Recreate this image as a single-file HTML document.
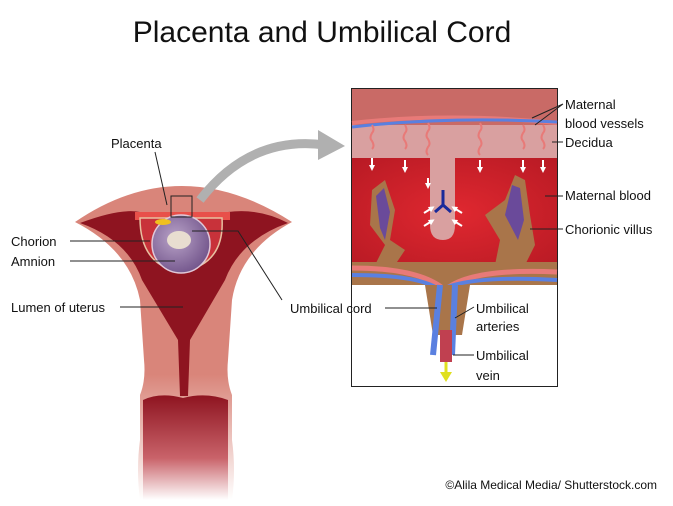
<!DOCTYPE html>
<html><head><meta charset="utf-8"><style>
body{margin:0;background:#fff;width:673px;height:506px;overflow:hidden}
svg{display:block}
text{font-family:"Liberation Sans",sans-serif;fill:#111}
</style></head><body>
<svg width="673" height="506" viewBox="0 0 673 506">
<defs>
<linearGradient id="fade" x1="0" y1="0" x2="0" y2="1"><stop offset="0.6" stop-color="#d9857a"/><stop offset="1" stop-color="#fff"/></linearGradient>
<linearGradient id="fade2" x1="0" y1="0" x2="0" y2="1"><stop offset="0" stop-color="#8e1420"/><stop offset="0.6" stop-color="#c9636a"/><stop offset="1" stop-color="#fff"/></linearGradient>
<radialGradient id="mb" cx="0.5" cy="0.5" r="0.7"><stop offset="0" stop-color="#e02830"/><stop offset="1" stop-color="#b81a24"/></radialGradient>
<radialGradient id="amn" cx="0.4" cy="0.4" r="0.7"><stop offset="0" stop-color="#b9a3c8"/><stop offset="1" stop-color="#6c4e86"/></radialGradient>
<marker id="wa" markerUnits="userSpaceOnUse" markerWidth="6" markerHeight="6" refX="3" refY="3" orient="auto"><path d="M0,0 L6,3 L0,6 Z" fill="#fff"/></marker>
</defs>
<text x="322" y="42" font-size="30" text-anchor="middle">Placenta and Umbilical Cord</text>

<!-- uterus -->
<path d="M75,222 Q180,150 292,222 Q240,250 232,300 L228,360 Q226,380 232,395 L232,440 Q236,470 232,500 L140,500 Q136,470 140,440 L140,395 Q146,380 144,360 L140,300 Q130,250 75,222 Z" fill="url(#fade)"/>
<path d="M80,223 Q120,208 140,212 L228,212 Q260,208 288,223 Q240,240 225,280 L190,340 L188,396 L180,396 L178,340 L142,280 Q128,240 80,223 Z" fill="#8e1420"/>
<path d="M143,400 Q160,392 183,398 Q206,392 228,400 L228,500 L143,500 Z" fill="url(#fade2)"/>
<path d="M135,212 L230,212 L230,220 L135,220 Z" fill="#e8504a"/>
<path d="M140,218 Q140,265 180,272 Q225,265 222,218 Z" fill="#c8323a" stroke="#e8c0a0" stroke-width="1.5"/>
<circle cx="181" cy="244" r="29" fill="url(#amn)" stroke="#e0c8d8" stroke-width="1.5"/>
<ellipse cx="179" cy="240" rx="12" ry="9" fill="#e8ddd0"/>
<ellipse cx="163" cy="222" rx="8" ry="3" fill="#f0c020"/>
<rect x="171" y="196" width="21" height="21" fill="none" stroke="#222" stroke-width="1"/>
<path d="M200,200 Q250,135 325,145" fill="none" stroke="#b0b0b0" stroke-width="9"/>
<path d="M318,130 L345,146 L318,160 Z" fill="#b0b0b0"/>

<!-- panel -->
<rect x="351.5" y="88.5" width="206" height="298" fill="#fff" stroke="#222"/>
<rect x="352" y="89" width="205" height="36" fill="#c96a66"/>
<rect x="352" y="125" width="205" height="33" fill="#d9a0a0"/>
<rect x="352" y="158" width="205" height="110" fill="url(#mb)"/>
<path d="M455,158 L455,225 Q455,240 443,240 Q430,240 430,225 L430,158 Z" fill="#d9a0a0"/>
<path d="M352,123 Q450,112 557,123" stroke="#e87a78" stroke-width="4" fill="none"/>
<path d="M352,127 Q450,116 557,122" stroke="#5a80e0" stroke-width="3" fill="none"/>
<g stroke="#e87a78" stroke-width="2" fill="none">
<path d="M372,125 q3,5 0,8 q-3,5 0,8 q3,5 0,8"/><path d="M405,125 q3,5 0,8 q-3,5 0,8 q3,5 0,8"/>
<path d="M428,123 q3,5 0,8 q-3,5 0,8 q3,5 0,8 q-3,5 0,8"/><path d="M480,123 q3,5 0,8 q-3,5 0,8 q3,5 0,8 q-3,5 0,8"/>
<path d="M523,125 q3,5 0,8 q-3,5 0,8 q3,5 0,8"/><path d="M543,125 q3,5 0,8 q-3,5 0,8 q3,5 0,8"/>
</g>
<g stroke="#fff" stroke-width="2" marker-end="url(#wa)">
<path d="M372,158 L372,168"/><path d="M405,160 L405,170"/><path d="M428,178 L428,186"/><path d="M480,160 L480,170"/><path d="M523,160 L523,170"/><path d="M543,160 L543,170"/>
<path d="M424,213 L432,208"/><path d="M424,226 L432,221"/><path d="M462,213 L454,208"/><path d="M462,226 L454,221"/>
</g>
<path d="M372,190 L385,180 L395,210 L390,240 L405,250 L395,265 L375,265 L385,245 L370,225 Z" fill="#a9754a"/>
<path d="M376,196 L384,188 L390,212 L385,240 L380,228 Z" fill="#6a4a9a"/>
<path d="M515,175 L525,180 L530,215 L535,245 L525,265 L495,265 L500,240 L485,215 L505,200 Z" fill="#a9754a"/>
<path d="M512,185 L520,188 L524,220 L518,240 L505,215 Z" fill="#6a4a9a"/>
<rect x="352" y="262" width="205" height="23" fill="#a9754a"/>
<path d="M352,268 Q420,268 445,290 Q470,268 557,272" stroke="#e87a78" stroke-width="5" fill="none"/>
<path d="M352,275 Q420,275 440,290 Q470,275 557,280" stroke="#5a80e0" stroke-width="4" fill="none"/>
<path d="M425,285 L470,285 L462,335 L433,335 Z" fill="#a9754a"/>
<path d="M440,285 L433,355" stroke="#5a80e0" stroke-width="6"/>
<path d="M455,285 L452,355" stroke="#5a80e0" stroke-width="6"/>
<rect x="440" y="330" width="12" height="32" fill="#c04050"/>
<path d="M446,362 L446,375" stroke="#e0e020" stroke-width="3"/>
<path d="M440,372 L446,382 L452,372 Z" fill="#e0e020"/>
<path d="M443,190 L443,205 M435,212 L443,205 L451,212" stroke="#1a2a9a" stroke-width="3" fill="none"/>

<g font-size="13">
<text x="111" y="148">Placenta</text>
<text x="11" y="246">Chorion</text>
<text x="11" y="266">Amnion</text>
<text x="11" y="312">Lumen of uterus</text>
<text x="290" y="313">Umbilical cord</text>
<text x="565" y="109">Maternal</text>
<text x="565" y="128">blood vessels</text>
<text x="565" y="147">Decidua</text>
<text x="565" y="200">Maternal blood</text>
<text x="565" y="234">Chorionic villus</text>
<text x="476" y="313">Umbilical</text>
<text x="476" y="331">arteries</text>
<text x="476" y="360">Umbilical</text>
<text x="476" y="380">vein</text>
</g>
<g stroke="#222" stroke-width="1" fill="none">
<path d="M155,152 L167,205"/>
<path d="M70,241 L150,241"/><path d="M70,261 L175,261"/><path d="M120,307 L183,307"/>
<path d="M192,231 L238,231 L282,300"/>
<path d="M385,308 L437,308"/>
<path d="M563,104 L532,118 M563,104 L535,125"/>
<path d="M563,142 L552,142"/><path d="M563,196 L545,196"/><path d="M563,229 L530,229"/>
<path d="M474,307 L455,318"/><path d="M474,355 L453,355"/>
</g>
<text x="657" y="489" font-size="12" text-anchor="end" fill="#333">©Alila Medical Media/ Shutterstock.com</text>
</svg>
</body></html>
